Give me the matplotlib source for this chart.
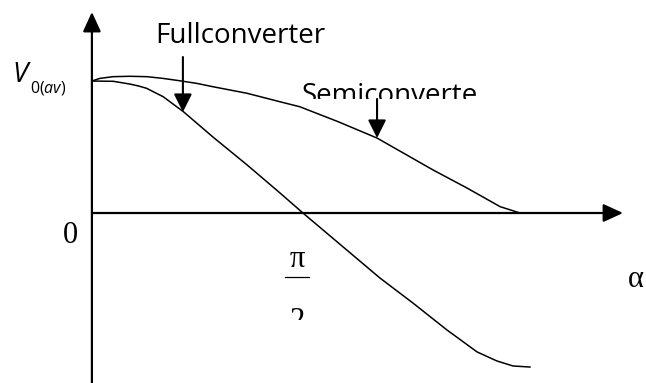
import matplotlib
matplotlib.use("Agg")
import matplotlib.pyplot as plt
from matplotlib.patches import Rectangle

plt.rcParams["mathtext.fontset"] = "custom"
plt.rcParams["mathtext.rm"] = "Open Sans"
plt.rcParams["mathtext.it"] = "Open Sans:italic"

# firing angle in degrees, output voltage as fraction of V0(av)
alpha_full = [0, 9.1, 16.2, 19.8, 23.3, 30.4, 39.0, 51.6, 66.2, 80.2, 90, 122.8, 136.9, 151.4, 164.3, 172.7, 179.6, 186.8]
v_full = [1.0, 0.998, 0.977, 0.963, 0.945, 0.881, 0.768, 0.576, 0.364, 0.152, 0.0, -0.492, -0.682, -0.886, -1.053, -1.121, -1.159, -1.167]

alpha_semi = [0, 3.4, 9.0, 16.2, 23.5, 30.3, 37.5, 44.8, 51.6, 66.2, 80.2, 88.7, 105.0, 121.6, 145.5, 160.0, 174.1, 182.6]
v_semi = [1.0, 1.020, 1.033, 1.036, 1.033, 1.020, 1.002, 0.982, 0.957, 0.907, 0.843, 0.805, 0.692, 0.568, 0.326, 0.189, 0.048, 0.0]

label_full = "Fullconverter"
label_semi = "Semiconverte"

fig = plt.figure(figsize=(6.46, 3.83), dpi=100)
ax = fig.add_axes([0, 0, 1, 1])
ax.set_xlim(-39.2, 236.3)
ax.set_ylim(-1.288, 1.614)
ax.axis("off")

axis_arrow = dict(arrowstyle="-|>,head_length=12,head_width=5.5", mutation_scale=1,
                  lw=1.6, color="black", shrinkA=0, shrinkB=0)
# axes with arrow heads
ax.annotate("", xy=(0, 1.523), xytext=(0, -1.35), arrowprops=axis_arrow)
ax.annotate("", xy=(226.5, 0), xytext=(0, 0), arrowprops=axis_arrow)

ax.plot(alpha_full, v_full, color="black", lw=1.1, solid_joinstyle="round")
ax.plot(alpha_semi, v_semi, color="black", lw=1.1, solid_joinstyle="round")

# label pointers
label_arrow = dict(arrowstyle="-|>,head_length=11,head_width=5.5", mutation_scale=1,
                   lw=1.5, color="black", shrinkA=0, shrinkB=0)
ax.annotate("", xy=(38.8, 0.765), xytext=(38.8, 1.182), arrowprops=label_arrow)
ax.annotate("", xy=(121.6, 0.568), xytext=(121.6, 0.864), arrowprops=label_arrow)

sans = "Open Sans"
serif = "Liberation Serif"
ax.text(26.9, 1.288, label_full, fontsize=20, family=sans, va="baseline")
t = ax.text(89.6, 0.833, label_semi, fontsize=20, family=sans, va="baseline", clip_on=True)
t.set_clip_path(Rectangle((80, 0.864), 120, 1.0, transform=ax.transData))

ax.text(-33.7, 0.992, "V", fontsize=20, family=sans, style="italic", va="baseline")
ax.text(-26.5, 0.915, r"$0(av)$", fontsize=11.5, va="baseline")

ax.text(-9.2, -0.227, "0", fontsize=22, family=serif, ha="center", va="baseline")
ax.text(87.5, -0.409, "π", fontsize=22, family=serif, ha="center", va="baseline")
ax.plot([82.3, 92.6], [-0.485, -0.485], color="black", lw=0.9)
t2 = ax.text(87.5, -0.879, "2", fontsize=22, family=serif, ha="center", va="baseline", clip_on=True)
t2.set_clip_path(Rectangle((75, -0.81), 25, 0.3, transform=ax.transData))
ax.text(228.7, -0.561, "α", fontsize=22, family=serif, va="baseline")

plt.savefig("out.png", dpi=100)
